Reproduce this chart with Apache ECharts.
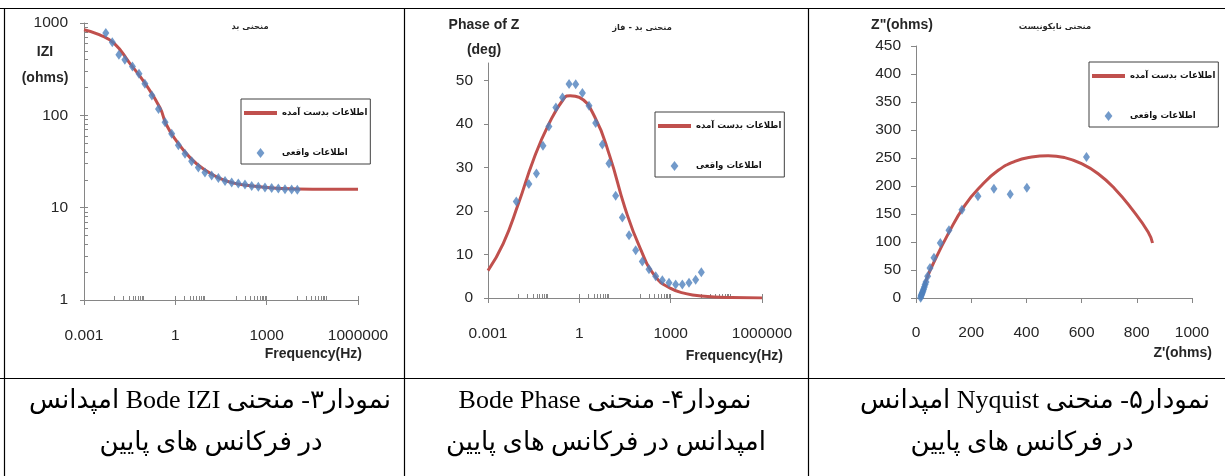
<!DOCTYPE html>
<html>
<head>
<meta charset="utf-8">
<script src="https://cdn.jsdelivr.net/npm/echarts@6/dist/echarts.min.js"></script>
<style>
  html, body { margin: 0; padding: 0; background: #ffffff; }
  #chart { width: 1225px; height: 476px; }
</style>
</head>
<body>
<div id="chart"></div>
<script>
// ---- Bode magnitude / phase: measured points (frequency in Hz) ----
const freqHz = [0.0052, 0.0085, 0.014, 0.022, 0.039, 0.064, 0.10, 0.17, 0.28, 0.46,
                0.76, 1.26, 2.08, 3.44, 5.7, 9.4, 15.6, 25.9, 42.9, 71,
                117, 194, 322, 532, 881, 1460, 2415, 4000, 6620, 10160];
const magMeasured = [778, 617, 453, 400, 339, 282, 220, 164, 117, 84,
                     63, 47.5, 38.3, 31.9, 27.2, 24.0, 22.3, 20.9, 19.5, 18.7,
                     18.3, 17.8, 17.2, 16.8, 16.5, 16.3, 16.1, 15.8, 15.7, 15.6];
const phaseMeasured = [null, 22.2, null, 26.2, 28.6, 35.0, 39.4, 43.8, 46.1, 49.2,
                       49.1, 47.1, 44.2, 40.2, 35.3, 30.9, 23.5, 18.5, 14.4, 11.0,
                       8.4, 6.6, 5.0, 4.1, 3.5, 3.1, 3.1, 3.5, 4.2, 5.9];

// ---- Fitted model curves ----
const fitFreqHz = [0.001, 0.00316, 0.01, 0.0316, 0.1, 0.316, 0.5, 1, 3.16, 10,
                   31.6, 100, 316, 1000, 3160, 10000, 100000, 1000000];
const fitMag = [846, 747, 597, 368, 223, 120, 80, 55, 34.4, 25.2,
                20.5, 18.2, 17.2, 16.5, 16.1, 15.9, 15.8, 15.8];
const fitPhase = [6.3, 12.5, 21.7, 31.9, 40.0, 45.9, 46.5, 46.1, 41.7, 32.6,
                  20.7, 11.4, 4.9, 2.2, 1.0, 0.45, 0.1, 0.02];

// ---- Nyquist plot ----
const nyqRe = [617.6, 401.7, 341.4, 282.3, 224.4, 166.5, 119.4, 88.1, 65.1, 50.7,
               42.2, 36.2, 33.0, 30.2, 27.5, 25.3, 23.0, 21.7, 19.5, 18.1, 16.9];
const nyqIm = [251.8, 197.0, 185.1, 195.2, 181.5, 157.7, 120.8, 98.2, 72.0, 53.6,
               38.7, 28.6, 24.0, 19.6, 15.5, 12.5, 10.0, 7.7, 5.5, 3.6, 0.6];
const nyqFitRe = [18, 25, 32, 41, 56.7, 117, 177, 238, 298, 358, 419, 479, 539,
                  600, 660, 720, 781, 841, 857];
const nyqFitIm = [3, 12, 24, 37, 55.4, 114.9, 165.5, 201.2, 228, 244, 251.8, 254.2, 250.6,
                  239.9, 222, 195.2, 159.5, 117.9, 98.2];

// ---- Axis ticks and labels ----
const freqMajor = [0.001, 1, 1000, 1000000];
const freqMinor = [0.001,
  0.01, 0.02, 0.03, 0.04, 0.05, 0.06, 0.07, 0.08, 0.09,
  1, 2, 3, 4, 5, 6, 7, 8, 9,
  100, 200, 300, 400, 500, 600, 700, 800, 900,
  1000,
  10000, 20000, 30000, 40000, 50000, 60000, 70000, 80000, 90000,
  1000000];
const magMajor = [1, 10, 100, 1000];
const magMinor = [1, 2, 3, 4, 5, 6, 7, 8, 9,
  10, 20, 30, 40, 50, 60, 70, 80, 90,
  100, 200, 300, 400, 500, 600, 700, 800, 900, 1000];
const phaseTicks = [0, 10, 20, 30, 40, 50];

// ---- Text ----
const fitName = 'اطلاعات بدست آمده';
const measName = 'اطلاعات واقعی';
const chartTitles = ['منحنی بد', 'منحنی بد - فاز', 'منحنی نایکونیست'];
const captions = [
  ['نمودار۳- منحنی Bode IZI امپدانس', 'در فرکانس های پایین'],
  ['نمودار۴- منحنی Bode Phase', 'امپدانس در فرکانس های پایین'],
  ['نمودار۵- منحنی Nyquist امپدانس', 'در فرکانس های پایین']
];

const RED = '#C0504D';
const BLUE = '#4F81BD';
const AXIS = '#868686';
const INK = '#262626';
const NUM_FONT = 'Liberation Sans';
const FA_FONT = 'DejaVu Sans';

const pairs = (xs, ys) => xs.map((x, i) => [x, ys[i]]).filter(p => p[1] != null);
const plain = v => String(+(+v).toPrecision(6));

function labelStyle(values, margin) {
  return {
    customValues: values, margin: margin, color: INK,
    fontFamily: NUM_FONT, fontSize: 15.5, formatter: plain
  };
}

function freqAxes(grid) {
  return [
    {
      gridIndex: grid, type: 'log', logBase: 10, min: 0.001, max: 1000000, position: 'bottom',
      axisLine: { lineStyle: { color: AXIS, width: 1 } },
      axisTick: { customValues: freqMajor, length: 5, lineStyle: { color: AXIS } },
      axisLabel: labelStyle(freqMajor, 28),
      splitLine: { show: false }
    },
    {
      gridIndex: grid, type: 'log', logBase: 10, min: 0.001, max: 1000000, position: 'bottom',
      axisLine: { show: false },
      axisTick: { customValues: freqMinor, inside: true, length: 4, lineStyle: { color: AXIS } },
      axisLabel: { show: false },
      splitLine: { show: false }
    }
  ];
}

const legendBase = {
  orient: 'vertical', selectedMode: false,
  itemWidth: 33, itemHeight: 10, itemGap: 26,
  padding: [7, 3, 4, 3],
  borderColor: '#404040', borderWidth: 1,
  backgroundColor: '#ffffff',
  textStyle: { fontFamily: FA_FONT, fontWeight: 'bold', fontSize: 8.6, color: '#111', lineHeight: 14 },
  data: [
    { name: fitName, icon: 'path://M0 0H33V4H0Z' },
    { name: measName, icon: 'path://M3.5 0L7 4.5L3.5 9L0 4.5Z' }
  ]
};

function txt(text, x, y, opts) {
  return {
    type: 'text', x: x, y: y, silent: true,
    style: Object.assign({
      text: text, fill: INK, align: 'center', verticalAlign: 'middle',
      fontFamily: NUM_FONT, fontSize: 14, fontWeight: 'bold'
    }, opts || {})
  };
}

function hline(y, x1, x2) {
  return { type: 'line', silent: true, shape: { x1: x1, y1: y, x2: x2, y2: y },
           style: { stroke: '#000', lineWidth: 1.2 } };
}
function vline(x, y1, y2) {
  return { type: 'line', silent: true, shape: { x1: x, y1: y1, x2: x, y2: y2 },
           style: { stroke: '#000', lineWidth: 1.2 } };
}

const graphics = [
  hline(8.5, 0, 1225), hline(378.5, 0, 1225),
  vline(4.5, 8, 476), vline(404.5, 8, 476), vline(808.5, 8, 476),

  txt('IZI', 45, 52), txt('(ohms)', 45, 78),
  txt('Frequency(Hz)', 362, 354, { align: 'right' }),
  txt('Phase of Z', 484, 25), txt('(deg)', 484, 50),
  txt('Frequency(Hz)', 783, 356, { align: 'right' }),
  txt('Z"(ohms)', 902, 25),
  txt("Z'(ohms)", 1212, 353, { align: 'right' }),

  txt(chartTitles[0], 250, 27, { fontFamily: FA_FONT, fontSize: 8.3 }),
  txt(chartTitles[1], 642, 28, { fontFamily: FA_FONT, fontSize: 8.3 }),
  txt(chartTitles[2], 1055, 27, { fontFamily: FA_FONT, fontSize: 8.3 })
];

// Captions are right-to-left paragraphs with embedded Latin words
const captionX = [[210, 211], [605, 606], [1035, 1022]];
captions.forEach((rows, i) => {
  rows.forEach((row, j) => {
    graphics.push(txt('\u202B' + row + '\u202C', captionX[i][j], j === 0 ? 401 : 443, {
      fontFamily: '"Liberation Serif", "DejaVu Sans"', fontSize: 26, fontWeight: 'normal', fill: '#000'
    }));
  });
});

const option = {
  animation: false,
  backgroundColor: '#ffffff',
  grid: [
    { left: 84, top: 23, width: 274, height: 277 },
    { left: 488, top: 63, width: 274, height: 235 },
    { left: 916, top: 46, width: 276, height: 252 }
  ],
  xAxis: [
    ...freqAxes(0),
    ...freqAxes(1),
    {
      gridIndex: 2, type: 'value', min: 0, max: 1000, interval: 200,
      axisLine: { lineStyle: { color: AXIS } },
      axisTick: { length: 5, lineStyle: { color: AXIS } },
      axisLabel: { margin: 27, color: INK, fontFamily: NUM_FONT, fontSize: 15.5, formatter: plain },
      splitLine: { show: false }
    }
  ],
  yAxis: [
    {
      // |Z| axis: decade labels, minor ticks (2..9 per decade) pointing into the plot
      gridIndex: 0, type: 'log', logBase: 10, min: 1, max: 1000, position: 'left',
      axisLine: { show: true, lineStyle: { color: AXIS } },
      axisTick: { show: true, customValues: magMinor, inside: true, length: 4, lineStyle: { color: AXIS } },
      axisLabel: labelStyle(magMajor, 16),
      splitLine: { show: false }
    },
    {
      // outer half of the decade ticks
      gridIndex: 0, type: 'log', logBase: 10, min: 1, max: 1000, position: 'left',
      axisLine: { show: false },
      axisTick: { show: true, customValues: magMajor, length: 4, lineStyle: { color: AXIS } },
      axisLabel: { show: false },
      splitLine: { show: false }
    },
    {
      gridIndex: 1, type: 'value', min: 0, max: 54, position: 'left',
      axisLine: { show: true, lineStyle: { color: AXIS } },
      axisTick: { show: true, customValues: phaseTicks, length: 4, lineStyle: { color: AXIS } },
      axisLabel: labelStyle(phaseTicks, 15),
      splitLine: { show: false }
    },
    {
      gridIndex: 2, type: 'value', min: 0, max: 450, interval: 50, position: 'left',
      axisLine: { show: true, lineStyle: { color: AXIS } },
      axisTick: { show: true, length: 5, lineStyle: { color: AXIS } },
      axisLabel: { margin: 15, color: INK, fontFamily: NUM_FONT, fontSize: 15.5 },
      splitLine: { show: false }
    }
  ],
  legend: [
    Object.assign({}, legendBase, { left: 241, top: 99 }),
    Object.assign({}, legendBase, { left: 655, top: 112 }),
    Object.assign({}, legendBase, { left: 1089, top: 62 })
  ],
  series: [
    {
      name: fitName, type: 'line', xAxisIndex: 0, yAxisIndex: 0,
      data: pairs(fitFreqHz, fitMag), smooth: true, showSymbol: false,
      color: RED, lineStyle: { color: RED, width: 3 }, z: 2
    },
    {
      name: measName, type: 'scatter', xAxisIndex: 0, yAxisIndex: 0,
      data: pairs(freqHz, magMeasured), symbol: 'diamond', symbolSize: [7, 10],
      itemStyle: { color: BLUE }, z: 3
    },
    {
      name: fitName, type: 'line', xAxisIndex: 2, yAxisIndex: 2,
      data: pairs(fitFreqHz, fitPhase), smooth: true, showSymbol: false,
      color: RED, lineStyle: { color: RED, width: 3 }, z: 2
    },
    {
      name: measName, type: 'scatter', xAxisIndex: 2, yAxisIndex: 2,
      data: pairs(freqHz, phaseMeasured), symbol: 'diamond', symbolSize: [7, 10],
      itemStyle: { color: BLUE }, z: 3
    },
    {
      name: fitName, type: 'line', xAxisIndex: 4, yAxisIndex: 3,
      data: pairs(nyqFitRe, nyqFitIm), smooth: true, showSymbol: false,
      color: RED, lineStyle: { color: RED, width: 3 }, z: 2
    },
    {
      name: measName, type: 'scatter', xAxisIndex: 4, yAxisIndex: 3,
      data: pairs(nyqRe, nyqIm), symbol: 'diamond', symbolSize: [7, 10],
      itemStyle: { color: BLUE }, z: 3
    }
  ],
  graphic: graphics
};

const chart = echarts.init(document.getElementById('chart'), null, { renderer: 'canvas' });
chart.setOption(option);
</script>
</body>
</html>
